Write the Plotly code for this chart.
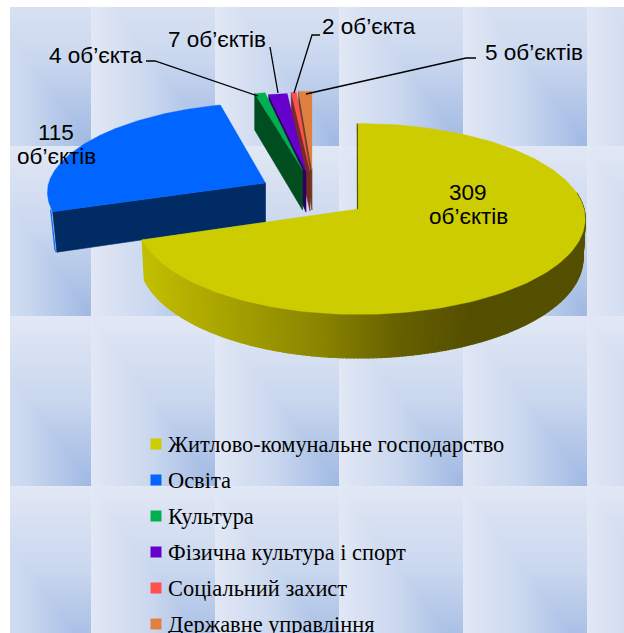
import base64, struct, zlib
import numpy as np
import plotly.graph_objects as go

# ---- data -------------------------------------------------------------
categories = ["Житлово-комунальне господарство", "Освіта", "Культура",
              "Фізична культура і спорт", "Соціальний захист", "Державне управління"]
values = [309, 115, 4, 7, 2, 5]
label_texts = ["309", "об’єктів", "115", "об’єктів", "4 об’єкта",
               "7 об’єктів", "2 об’єкта", "5 об’єктів"]

# ---- style ------------------------------------------------------------
top_colors = ["#cccc00", "#0066ff", "#00b050", "#6600cc", "#ff5050", "#e08040"]
cut_colors = ["#55500a", "#002b65", "#004d20", "#2d0060", "#7a2a25", "#6d4020"]
apex_x = [358, 265.5, 302.5, 306, 310, 312]
apex_y = [209, 183, 170, 172, 171, 170]
rx_scale = [1.0, 0.96, 0.92, 0.92, 0.92, 0.92]
ry_scale = [1.0, 0.94, 0.92, 0.92, 0.92, 0.92]
left_scale = [0.973, 1, 1, 1, 1, 1]
shear = [0, 5, 0, 0, 0, 0]
wall_height = [39, 39, 40, 40, 40, 40]
wall_inset = [0.99, 0.98, 1, 1, 1, 1]
RX, RY, K = 226.0, 94.5, 0.104
W, H = 624, 633


def project(angle_deg, i, drop=0.0):
    a = np.radians(np.asarray(angle_deg, dtype=float))
    u, v = np.sin(a), np.cos(a)
    p = 1 / (1 + K * v)
    side = np.where(u < 0, left_scale[i], 1.0)
    x = apex_x[i] + rx_scale[i] * RX * u * p * side + shear[i] * np.maximum(v, 0)
    y = apex_y[i] - ry_scale[i] * RY * v * p
    if drop:
        x = apex_x[i] + (x - apex_x[i]) * wall_inset[i]
        y = y + drop * p
    return x, y


def background_uri():
    tile_w, tile_h = 124, 170
    x0, y0 = 10, 7
    xs = (np.arange(W - x0) + x0 - 91) % tile_w / tile_w
    ys = (np.arange(H - y0) + y0 - 146) % tile_h / tile_h
    t = np.minimum(xs[None, :], ys[:, None])
    stops = [0, 0.5, 1]
    chans = [[226, 201, 159], [232, 215, 184], [245, 239, 227]]
    img = np.full((H, W, 3), 255, dtype=np.uint8)
    for c in range(3):
        img[y0:, x0:, c] = np.interp(t, stops, chans[c]).astype(np.uint8)
    raw = b"".join(b"\x00" + img[r].tobytes() for r in range(H))

    def chunk(tag, data):
        return struct.pack(">I", len(data)) + tag + data + struct.pack(">I", zlib.crc32(tag + data))

    png = (b"\x89PNG\r\n\x1a\n" + chunk(b"IHDR", struct.pack(">IIBBBBB", W, H, 8, 2, 0, 0, 0))
           + chunk(b"IDAT", zlib.compress(raw, 9)) + chunk(b"IEND", b""))
    return "data:image/png;base64," + base64.b64encode(png).decode()


fig = go.Figure()


def poly(xs, ys, color, width=0.6):
    fig.add_trace(go.Scatter(x=list(xs), y=list(ys), mode="lines", fill="toself",
                             fillcolor=color, line=dict(color=color, width=width),
                             hoverinfo="skip", showlegend=False))


# slice angles, clockwise from 12 o'clock
total = sum(values)
edges = np.concatenate([[0], np.cumsum(values)]) / total * 360.0


def draw_cut(i, angle):
    ax, ay = project(angle, i)
    bx, by = project(angle, i, wall_height[i])
    px, py = apex_x[i], apex_y[i]
    poly([px, ax, bx, px, px], [py, ay, by, py + wall_height[i], py], cut_colors[i])


def draw_top(i):
    angs = np.linspace(edges[i], edges[i + 1], 160)
    x, y = project(angs, i)
    poly([apex_x[i], *x, apex_x[i]], [apex_y[i], *y, apex_y[i]], top_colors[i], 0.3)


# small slices, back to front
for i in [5, 4, 3, 2]:
    draw_cut(i, edges[i])
    draw_top(i)

# education slice
angs = np.linspace(edges[1], edges[1] + 1.5, 6)
x1, y1 = project(angs, 1)
x2, y2 = project(angs, 1, wall_height[1])
poly([*(x1 - 1), *(x2[::-1] - 1)], [*y1, *y2[::-1]], top_colors[1])
draw_cut(1, edges[1])
draw_top(1)

# housing slice: shaded rim, thin cut, top
rim = np.linspace(80, edges[1], 200)
x_stops = [140, 200, 320, 400, 470, 590]
r_stops = [196, 176, 138, 102, 85, 85]
g_stops = [192, 172, 133, 96, 80, 80]
x1, y1 = project(rim, 0)
x2, y2 = project(rim, 0, wall_height[0])
for j in range(len(rim) - 1):
    xm = (x1[j] + x1[j + 1]) / 2
    col = "rgb(%d,%d,0)" % (np.interp(xm, x_stops, r_stops), np.interp(xm, x_stops, g_stops))
    poly([x1[j], x1[j + 1], x2[j + 1], x2[j], x1[j]], [y1[j], y1[j + 1], y2[j + 1], y2[j], y1[j]], col, 1.2)
draw_top(0)
sx, sy = project([0.0], 0)
fig.add_trace(go.Scatter(x=[apex_x[0] - 0.5, sx[0] - 0.7], y=[apex_y[0], sy[0]], mode="lines",
                         line=dict(color="#55500a", width=1.2), hoverinfo="skip", showlegend=False))

# leader lines
leaders = [
    ([146, 155, 258], [61, 61, 96]),
    ([270, 278], [47, 93]),
    ([320, 312, 294], [35, 35, 93]),
    ([476, 466, 306], [58, 58, 94]),
]
for lx, ly in leaders:
    fig.add_trace(go.Scatter(x=lx, y=ly, mode="lines", line=dict(color="#000000", width=1.3),
                             hoverinfo="skip", showlegend=False))

# data labels
label_pos = [(468, 192), (468, 216), (56, 132), (56, 156), (96, 55), (217, 39), (369, 26), (534, 52)]
for t, (lx, ly) in zip(label_texts, label_pos):
    fig.add_annotation(x=lx, y=ly, text=t, showarrow=False, xanchor="center", yanchor="middle",
                       font=dict(family="Liberation Sans", size=22.5, color="#000000"))

# legend
legend_rows = [444 + 36 * n for n in range(len(categories))]
fig.add_trace(go.Scatter(x=[156] * len(categories), y=legend_rows, mode="markers",
                         marker=dict(symbol="square", size=11, color=top_colors),
                         hoverinfo="skip", showlegend=False, cliponaxis=False))
for name, ry in zip(categories, legend_rows):
    fig.add_annotation(x=165.5, y=ry, text=name, showarrow=False, xanchor="left", yanchor="middle",
                       font=dict(family="Liberation Serif", size=22.4, color="#000000"))

fig.update_layout(
    width=W, height=H, margin=dict(l=0, r=0, t=0, b=0),
    paper_bgcolor="#ffffff", plot_bgcolor="rgba(0,0,0,0)",
    xaxis=dict(range=[0, W], visible=False, fixedrange=True),
    yaxis=dict(range=[H, 0], visible=False, fixedrange=True),
    images=[dict(source=background_uri(), xref="paper", yref="paper", x=0, y=1, sizex=1, sizey=1,
                 xanchor="left", yanchor="top", sizing="stretch", layer="below")],
    showlegend=False,
)
fig.write_html("out.html", config={"displayModeBar": False},
               post_script="document.body.style.margin='0';document.body.style.overflow='hidden';")
